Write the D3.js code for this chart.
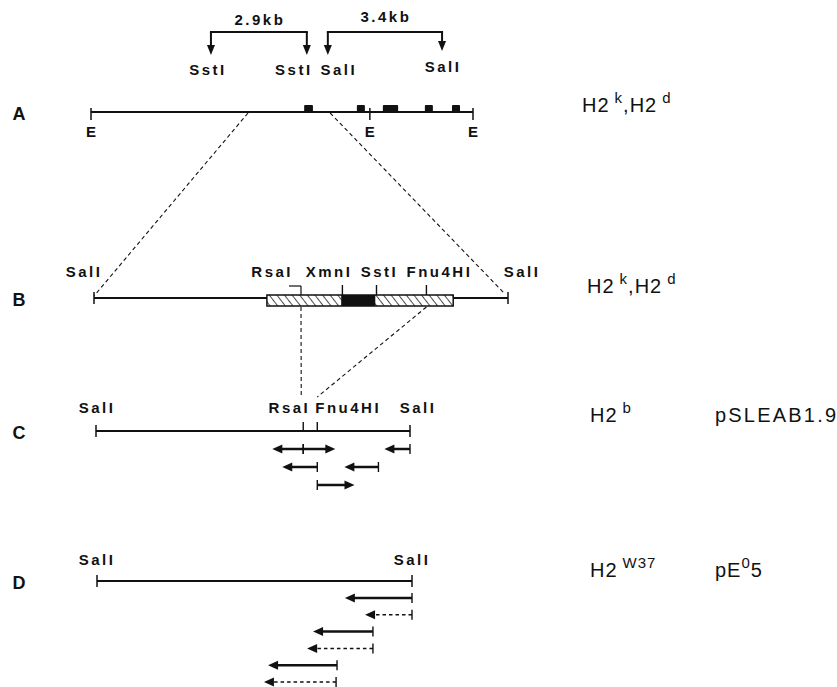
<!DOCTYPE html>
<html>
<head>
<meta charset="utf-8">
<script src="https://cdn.jsdelivr.net/npm/d3@7"></script>
<style>
  body { margin: 0; background: #fff; }
  text { font-family: "Liberation Sans", Arial, sans-serif; fill: #111; }
</style>
</head>
<body>
<svg id="chart" width="837" height="687"></svg>
<script>
// ---- data (map units in kb) ----

// A: genomic EcoRI fragment
const lenA = 10;
const ecoSites = [0, 7.3, 10];
const exonsA = [[5.58, 5.81], [6.96, 7.17], [7.64, 8.04], [8.74, 8.95], [9.45, 9.66]];
const brackets = [
  { label: "2.9kb", from: 3.14, to: 5.65, ends: ["SstI", "SstI"] },
  { label: "3.4kb", from: 6.20, to: 9.19, ends: ["SalI", "SalI"] }
];
const zoomA = [4.11, 6.26];

// B: 3.4kb SalI fragment
const lenB = 3.4;
const sitesB = [
  { name: "RsaI", pos: 1.70 },
  { name: "XmnI", pos: 2.04 },
  { name: "SstI", pos: 2.32 },
  { name: "Fnu4HI", pos: 2.73 }
];
const hatchB = [1.42, 2.95];
const codingB = [2.03, 2.31];

// C: pSLEAB1.9
const lenC = 1.9;
const sitesC = [
  { name: "RsaI", pos: 1.254 },
  { name: "Fnu4HI", pos: 1.339 }
];
const seqC = [
  { row: 0, from: 1.254, to: 1.067 },
  { row: 0, from: 1.254, to: 1.448 },
  { row: 0, from: 1.9, to: 1.745 },
  { row: 1, from: 1.339, to: 1.127 },
  { row: 1, from: 1.709, to: 1.503 },
  { row: 2, from: 1.339, to: 1.564 }
];

// D: pE05
const lenD = 1.0;
const seqD = [
  { row: 0, from: 1.0, to: 0.787, dashed: false },
  { row: 1, from: 1.0, to: 0.851, dashed: true },
  { row: 2, from: 0.876, to: 0.686, dashed: false },
  { row: 3, from: 0.876, to: 0.667, dashed: true },
  { row: 4, from: 0.762, to: 0.543, dashed: false },
  { row: 5, from: 0.759, to: 0.530, dashed: true }
];

const rowLetters = ["A", "B", "C", "D"];
const haplotypes = [
  [["H2", ""], ["k", "sup"], [",H2", ""], ["d", "sup"]],
  [["H2", ""], ["k", "sup"], [",H2", ""], ["d", "sup"]],
  [["H2", ""], ["b", "sup"]],
  [["H2", ""], ["W37", "sup"]]
];
const clones = [null, null, [["pSLEAB1.9", ""]], [["pE", ""], ["0", "sup"], ["5", ""]]];

// ---- layout ----
const ink = "#111";
const svg = d3.select("#chart");
const yA = 112, yB = 298, yC = 431, yD = 581;
const rowY = [yA, yB, yC, yD];

const xA = d3.scaleLinear().domain([0, lenA]).range([91, 473]);
const xB = d3.scaleLinear().domain([0, lenB]).range([94, 508]);
const xC = d3.scaleLinear().domain([0, lenC]).range([96, 410]);
const xD = d3.scaleLinear().domain([0, lenD]).range([97, 412]);
const rowC = d3.scaleLinear().domain([0, 2]).range([449, 485]);
const rowD = d3.scaleLinear().domain([0, 5]).range([598, 682]);

const defs = svg.append("defs");
defs.append("pattern")
  .attr("id", "hatch")
  .attr("patternUnits", "userSpaceOnUse")
  .attr("width", 6).attr("height", 6)
  .attr("patternTransform", "rotate(-38)")
  .append("line")
  .attr("x1", 0).attr("y1", 0).attr("x2", 0).attr("y2", 6)
  .attr("stroke", ink).attr("stroke-width", 1.5);

function hline(x1, x2, y, w) {
  svg.append("line").attr("x1", x1).attr("x2", x2).attr("y1", y).attr("y2", y)
    .attr("stroke", ink).attr("stroke-width", w || 2);
}
function vline(x, y1, y2, w) {
  svg.append("line").attr("x1", x).attr("x2", x).attr("y1", y1).attr("y2", y2)
    .attr("stroke", ink).attr("stroke-width", w || 1.5);
}
function dashed(x1, y1, x2, y2) {
  svg.append("line").attr("x1", x1).attr("y1", y1).attr("x2", x2).attr("y2", y2)
    .attr("stroke", ink).attr("stroke-width", 1.1).attr("stroke-dasharray", "4,3");
}
function label(txt, x, y, anchor, size) {
  return svg.append("text").attr("x", x).attr("y", y)
    .attr("text-anchor", anchor || "middle")
    .attr("font-size", size || 15).attr("font-weight", "bold")
    .attr("letter-spacing", 2.5).text(txt);
}
// horizontal arrow with a start tick
function arrow(x1, x2, y, isDashed) {
  const dir = Math.sign(x2 - x1), head = 10, hw = 4.5;
  svg.append("line").attr("x1", x1).attr("x2", x2 - dir * head * 0.5).attr("y1", y).attr("y2", y)
    .attr("stroke", ink).attr("stroke-width", isDashed ? 1.5 : 2.5)
    .attr("stroke-dasharray", isDashed ? "3.5,3" : null);
  vline(x1, y - 5, y + 5, 1.4);
  svg.append("path")
    .attr("d", `M${x2},${y}L${x2 - dir * head},${y - hw}L${x2 - dir * head},${y + hw}Z`)
    .attr("fill", ink);
}
function downArrow(x, y1, y2) {
  vline(x, y1, y2 - 7, 2);
  svg.append("path").attr("d", `M${x},${y2}L${x - 4},${y2 - 10}L${x + 4},${y2 - 10}Z`).attr("fill", ink);
}
function richText(parts, x, y, supGap) {
  const t = svg.append("text").attr("x", x).attr("y", y)
    .attr("font-size", 20).attr("letter-spacing", 1);
  let up = false;
  parts.forEach(([s, kind]) => {
    const sp = t.append("tspan").text(s);
    if (kind === "sup" && !up) { sp.attr("dy", -9).attr("font-size", 15).attr("dx", supGap); up = true; }
    else if (kind !== "sup" && up) { sp.attr("dy", 9); up = false; }
    else if (kind === "sup") { sp.attr("font-size", 15); }
  });
  return t;
}

// ---- row letters and right-hand labels ----
rowLetters.forEach((l, i) => {
  svg.append("text").attr("x", 19).attr("y", rowY[i] + 8).attr("text-anchor", "middle")
    .attr("font-size", 18).attr("font-weight", "bold").text(l);
});
const hapX = [582, 587, 590, 590];
const hapY = [112, 293, 422, 577];
haplotypes.forEach((h, i) => richText(h, hapX[i], hapY[i], 5));
clones.forEach((c, i) => {
  if (c) richText(c, 715, hapY[i], 0).attr("letter-spacing", c.length > 1 ? 1 : 2.2);
});

// ---- A ----
hline(xA(0), xA(lenA), yA, 2);
ecoSites.forEach(s => {
  vline(xA(s), yA - 4, yA + 8, 1.5);
  label("E", xA(s), yA + 25, "middle", 15).attr("letter-spacing", 0);
});
exonsA.forEach(([a, b]) => {
  svg.append("rect").attr("x", xA(a)).attr("y", yA - 7).attr("width", xA(b) - xA(a)).attr("height", 7)
    .attr("rx", 1).attr("fill", ink);
});
const endDx = [[-3, -13], [11, 1]];
brackets.forEach((b, i) => {
  hline(xA(b.from) - 1, xA(b.to) + 1, 32, 2);
  downArrow(xA(b.from), 32, 55);
  downArrow(xA(b.to), 32, i === 1 ? 51 : 55);
  label(b.label, (xA(b.from) + xA(b.to)) / 2 + 1, i === 0 ? 25 : 22, "middle", 15);
  b.ends.forEach((e, j) => label(e, xA(j ? b.to : b.from) + endDx[i][j], i === 1 && j === 1 ? 72 : 75));
});

// A -> B zoom
dashed(xA(zoomA[0]), yA + 1, xB(0), yB - 2);
dashed(xA(zoomA[1]), yA + 1, xB(lenB) - 3, yB - 4);

// ---- B ----
hline(xB(0), xB(lenB), yB, 2);
vline(xB(0), yB - 6, yB + 6);
vline(xB(lenB), yB - 6, yB + 6);
svg.append("rect").attr("x", xB(hatchB[0])).attr("y", yB - 3)
  .attr("width", xB(hatchB[1]) - xB(hatchB[0])).attr("height", 11)
  .attr("fill", "#fff").attr("stroke", "none");
svg.append("rect").attr("x", xB(hatchB[0])).attr("y", yB - 3)
  .attr("width", xB(hatchB[1]) - xB(hatchB[0])).attr("height", 11)
  .attr("fill", "url(#hatch)").attr("stroke", ink).attr("stroke-width", 1.5);
svg.append("rect").attr("x", xB(codingB[0])).attr("y", yB - 3)
  .attr("width", xB(codingB[1]) - xB(codingB[0])).attr("height", 11).attr("fill", ink);
const labDxB = { RsaI: -8, XmnI: 10, SstI: 3, Fnu4HI: 13 };
const ancB = { RsaI: "end", XmnI: "end", SstI: "middle", Fnu4HI: "middle" };
sitesB.forEach(s => {
  const x = xB(s.pos);
  if (s.name === "RsaI") {
    vline(x, yB - 12, yB - 3, 1.2);
    svg.append("line").attr("x1", x - 12).attr("x2", x).attr("y1", yB - 12).attr("y2", yB - 12)
      .attr("stroke", ink).attr("stroke-width", 1.2);
  } else {
    vline(x, yB - 13, yB - 3, 1.4);
  }
  label(s.name, x + labDxB[s.name], 277, ancB[s.name]);
});
label("SalI", xB(0) - 10, 277);
label("SalI", xB(lenB) + 14, 277);

// B -> C zoom
dashed(xB(sitesB[0].pos), yB + 9, xC(sitesC[0].pos) - 2, 398);
dashed(xB(sitesB[3].pos), yB + 9, xC(sitesC[1].pos), 397);

// ---- C ----
hline(xC(0), xC(lenC), yC, 2);
vline(xC(0), yC - 6, yC + 6);
vline(xC(lenC), yC - 6, yC + 6);
sitesC.forEach(s => vline(xC(s.pos), yC - 9, yC, 1.4));
label("SalI", xC(0) + 1, 413);
label("RsaI", xC(sitesC[0].pos) + 7, 413, "end");
label("Fnu4HI", xC(sitesC[1].pos) - 2, 413, "start");
label("SalI", xC(lenC) + 8, 413);
seqC.forEach(d => arrow(xC(d.from), xC(d.to), rowC(d.row), false));

// ---- D ----
hline(xD(0), xD(lenD), yD, 2);
vline(xD(0), yD - 6, yD + 6);
vline(xD(lenD), yD - 6, yD + 6);
label("SalI", xD(0), 565);
label("SalI", xD(lenD), 565);
seqD.forEach(d => arrow(xD(d.from), xD(d.to), rowD(d.row), d.dashed));
</script>
</body>
</html>
